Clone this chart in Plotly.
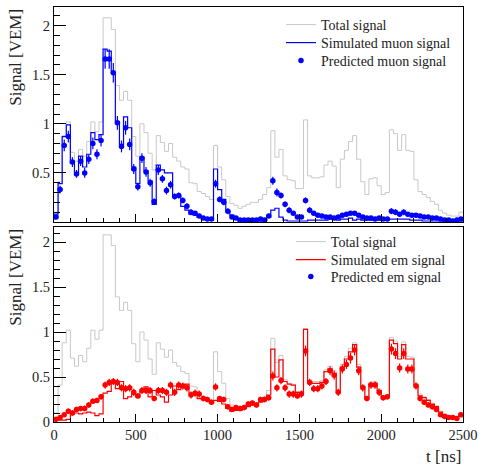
import numpy as np
import plotly.graph_objects as go

# ---------------- data (25 ns bins, 0 - 2500 ns) ----------------
BIN_WIDTH = 25
T_MAX = 2500

total_signal = [0.10, 0.41, 0.88, 1.02, 0.71, 0.62, 0.74, 0.67, 0.82, 1.02,
                0.92, 1.02, 2.08, 2.08, 1.96, 1.39, 1.24, 1.33, 1.24, 0.87,
                0.67, 1.00, 0.91, 0.70, 0.53, 0.88, 0.81, 0.72, 0.80, 0.66,
                0.62, 0.56, 0.54, 0.40, 0.39, 0.31, 0.29, 0.26, 0.23, 0.78,
                0.56, 0.43, 0.26, 0.19, 0.17, 0.14, 0.16, 0.18, 0.20, 0.20,
                0.23, 0.28, 0.35, 0.93, 0.66, 0.74, 0.47, 0.43, 0.42, 0.34,
                0.34, 1.04, 0.47, 0.45, 0.45, 0.46, 0.58, 0.62, 0.57, 0.35,
                0.64, 0.73, 0.82, 0.88, 0.64, 0.41, 0.28, 0.44, 0.45, 0.37,
                0.28, 0.30, 0.94, 0.90, 0.73, 0.89, 0.73, 0.72, 0.43, 0.31,
                0.28, 0.25, 0.21, 0.18, 0.12, 0.09, 0.07, 0.06, 0.06, 0.10]

muon_sim = [0.08, 0.39, 0.87, 0.99, 0.60, 0.50, 0.67, 0.56, 0.69, 0.91,
            0.84, 0.89, 1.76, 1.74, 1.52, 1.02, 0.79, 1.07, 0.96, 0.56,
            0.39, 0.66, 0.52, 0.42, 0.18, 0.58, 0.53, 0.50, 0.50, 0.26,
            0.26, 0.16, 0.12, 0.08, 0.07, 0.05, 0.03, 0.02, 0.02, 0.54,
            0.33, 0.23, 0.11, 0.07, 0.04, 0.01, 0.01, 0.01, 0.01, 0.01,
            0.01, 0.02, 0.05, 0.12, 0.14, 0.05, 0.02, 0.01, 0.01, 0.01,
            0.01, 0.01, 0.02, 0.02, 0.02, 0.02, 0.02, 0.03, 0.03, 0.02,
            0.03, 0.03, 0.04, 0.02, 0.03, 0.02, 0.02, 0.02, 0.02, 0.02,
            0.02, 0.02, 0.03, 0.03, 0.03, 0.03, 0.03, 0.02, 0.02, 0.02,
            0.01, 0.01, 0.01, 0.01, 0.01, 0.01, 0.01, 0.00, 0.00, 0.01]

muon_pred = [0.05, 0.33, 0.78, 0.87, 0.61, 0.49, 0.62, 0.50, 0.64, 0.80,
             0.69, 0.83, 1.66, 1.66, 1.52, 1.01, 0.77, 0.96, 0.79, 0.54,
             0.36, 0.65, 0.51, 0.40, 0.21, 0.53, 0.44, 0.32, 0.38, 0.26,
             0.27, 0.22, 0.16, 0.10, 0.09, 0.06, 0.04, 0.03, 0.03, 0.39,
             0.23, 0.20, 0.11, 0.05, 0.04, 0.02, 0.02, 0.02, 0.02, 0.02,
             0.03, 0.02, 0.06, 0.42, 0.30, 0.27, 0.18, 0.12, 0.09, 0.05,
             0.05, 0.22, 0.12, 0.09, 0.07, 0.06, 0.05, 0.05, 0.04, 0.05,
             0.07, 0.08, 0.09, 0.09, 0.07, 0.05, 0.04, 0.04, 0.03, 0.04,
             0.03, 0.03, 0.11, 0.10, 0.08, 0.10, 0.08, 0.07, 0.07, 0.06,
             0.05, 0.05, 0.04, 0.04, 0.03, 0.02, 0.02, 0.01, 0.02, 0.03]

muon_pred_err = [0.02, 0.04, 0.06, 0.06, 0.05, 0.04, 0.05, 0.05, 0.05, 0.06,
                 0.05, 0.06, 0.10, 0.10, 0.10, 0.07, 0.06, 0.07, 0.06, 0.05,
                 0.04, 0.05, 0.05, 0.04, 0.03, 0.05, 0.04, 0.04, 0.04, 0.03,
                 0.03, 0.03, 0.03, 0.03, 0.02, 0.02, 0.02, 0.02, 0.02, 0.04,
                 0.03, 0.03, 0.03, 0.02, 0.02, 0.02, 0.02, 0.02, 0.02, 0.02,
                 0.02, 0.02, 0.02, 0.04, 0.04, 0.03, 0.03, 0.03, 0.02, 0.02,
                 0.02, 0.03, 0.03, 0.02, 0.02, 0.02, 0.02, 0.02, 0.02, 0.02,
                 0.02, 0.02, 0.02, 0.02, 0.02, 0.02, 0.02, 0.02, 0.02, 0.02,
                 0.02, 0.02, 0.03, 0.03, 0.02, 0.03, 0.02, 0.02, 0.02, 0.02,
                 0.02, 0.02, 0.02, 0.02, 0.02, 0.02, 0.02, 0.02, 0.02, 0.02]

em_sim = [0.02, 0.02, 0.02, 0.03, 0.09, 0.10, 0.09, 0.10, 0.11, 0.10,
          0.07, 0.09, 0.32, 0.34, 0.44, 0.37, 0.45, 0.26, 0.28, 0.31,
          0.28, 0.34, 0.39, 0.28, 0.35, 0.30, 0.28, 0.22, 0.30, 0.40,
          0.36, 0.40, 0.42, 0.32, 0.32, 0.26, 0.26, 0.24, 0.21, 0.24,
          0.23, 0.20, 0.15, 0.12, 0.13, 0.13, 0.15, 0.17, 0.19, 0.19,
          0.22, 0.26, 0.30, 0.81, 0.50, 0.69, 0.45, 0.42, 0.41, 0.33,
          0.33, 1.03, 0.45, 0.43, 0.43, 0.44, 0.56, 0.59, 0.54, 0.33,
          0.61, 0.70, 0.78, 0.86, 0.61, 0.39, 0.26, 0.42, 0.43, 0.35,
          0.26, 0.28, 0.91, 0.87, 0.70, 0.86, 0.70, 0.70, 0.41, 0.29,
          0.27, 0.24, 0.20, 0.17, 0.11, 0.08, 0.06, 0.06, 0.06, 0.09]

em_pred = [0.03, 0.05, 0.08, 0.12, 0.10, 0.14, 0.15, 0.15, 0.19, 0.23,
           0.24, 0.28, 0.41, 0.44, 0.45, 0.44, 0.38, 0.37, 0.38, 0.33,
           0.29, 0.35, 0.35, 0.35, 0.26, 0.35, 0.35, 0.33, 0.41, 0.33,
           0.41, 0.40, 0.38, 0.30, 0.32, 0.31, 0.26, 0.25, 0.22, 0.39,
           0.26, 0.25, 0.17, 0.14, 0.16, 0.15, 0.16, 0.20, 0.21, 0.19,
           0.25, 0.25, 0.27, 0.51, 0.38, 0.46, 0.38, 0.31, 0.31, 0.29,
           0.31, 0.79, 0.44, 0.37, 0.37, 0.40, 0.45, 0.57, 0.52, 0.33,
           0.59, 0.64, 0.71, 0.80, 0.57, 0.38, 0.26, 0.41, 0.41, 0.33,
           0.27, 0.28, 0.81, 0.76, 0.60, 0.76, 0.59, 0.59, 0.40, 0.26,
           0.22, 0.19, 0.17, 0.14, 0.08, 0.06, 0.05, 0.05, 0.04, 0.08]

em_pred_err = [0.02, 0.02, 0.02, 0.03, 0.03, 0.03, 0.03, 0.03, 0.03, 0.03,
               0.03, 0.03, 0.04, 0.04, 0.04, 0.04, 0.04, 0.04, 0.04, 0.04,
               0.03, 0.04, 0.04, 0.04, 0.03, 0.04, 0.04, 0.04, 0.04, 0.04,
               0.04, 0.04, 0.04, 0.04, 0.04, 0.04, 0.03, 0.03, 0.03, 0.04,
               0.03, 0.03, 0.03, 0.03, 0.03, 0.03, 0.03, 0.03, 0.03, 0.03,
               0.03, 0.03, 0.03, 0.05, 0.04, 0.04, 0.04, 0.04, 0.04, 0.03,
               0.04, 0.06, 0.04, 0.04, 0.04, 0.04, 0.04, 0.05, 0.05, 0.04,
               0.05, 0.05, 0.06, 0.06, 0.05, 0.04, 0.03, 0.04, 0.04, 0.04,
               0.03, 0.03, 0.06, 0.06, 0.05, 0.06, 0.05, 0.05, 0.04, 0.03,
               0.03, 0.03, 0.03, 0.03, 0.02, 0.02, 0.02, 0.02, 0.02, 0.02]

x_tick_vals = [0, 500, 1000, 1500, 2000, 2500]
y_tick_vals = [0, 0.5, 1, 1.5, 2]
y_tick_text = ["0", "0.5", "1", "1.5", "2"]

# ---------------- helpers ----------------
edges = np.arange(0, T_MAX + BIN_WIDTH, BIN_WIDTH)
centers = edges[:-1] + BIN_WIDTH / 2


def step_y(vals):
    return list(vals) + [vals[-1]]


FONT = "Liberation Serif"
GRAY = "#c8c8c8"
BLUE = "#0000ff"
RED = "#ff0000"
TXT = "#222222"

fig = go.Figure()

# ---- top panel ----
fig.add_trace(go.Scatter(x=edges, y=step_y(total_signal), mode="lines", line_shape="hv",
                         line=dict(color=GRAY, width=1), name="Total signal",
                         xaxis="x", yaxis="y", legend="legend"))
fig.add_trace(go.Scatter(x=edges, y=step_y(muon_sim), mode="lines", line_shape="hv",
                         line=dict(color=BLUE, width=1.2), name="Simulated muon signal",
                         xaxis="x", yaxis="y", legend="legend3"))
fig.add_trace(go.Scatter(x=centers, y=muon_pred, mode="markers",
                         marker=dict(color=BLUE, size=5.5),
                         error_y=dict(type="data", array=muon_pred_err, color=BLUE,
                                      thickness=1.2, width=0),
                         name="Predicted muon signal",
                         xaxis="x", yaxis="y", legend="legend4"))

# ---- bottom panel ----
fig.add_trace(go.Scatter(x=edges, y=step_y(total_signal), mode="lines", line_shape="hv",
                         line=dict(color=GRAY, width=1), name="Total signal",
                         xaxis="x2", yaxis="y2", legend="legend2"))
fig.add_trace(go.Scatter(x=edges, y=step_y(em_sim), mode="lines", line_shape="hv",
                         line=dict(color=RED, width=1.2), name="Simulated em signal",
                         xaxis="x2", yaxis="y2", legend="legend5"))
fig.add_trace(go.Scatter(x=centers, y=em_pred, mode="markers",
                         marker=dict(color=RED, size=5.5),
                         error_y=dict(type="data", array=em_pred_err, color=RED,
                                      thickness=1.2, width=0),
                         name="Predicted em signal", showlegend=False,
                         xaxis="x2", yaxis="y2", legend="legend6"))
# legend entry as drawn in the original (blue marker)
fig.add_trace(go.Scatter(x=[None], y=[None], mode="markers",
                         marker=dict(color=BLUE, size=5.5),
                         name="Predicted em signal",
                         xaxis="x2", yaxis="y2", legend="legend6"))

axis_common = dict(showline=True, linecolor="black", linewidth=1, mirror=True,
                   ticks="inside", tickcolor="black", showgrid=False, zeroline=False,
                   tickfont=dict(family=FONT, size=14.5, color=TXT))

W, H = 478, 465
PLOT_TOP, PLOT_BOTTOM = 7, 422
PLOT_H = PLOT_BOTTOM - PLOT_TOP


def py(page_y):
    """page pixel y -> paper fraction"""
    return (PLOT_BOTTOM - page_y) / PLOT_H


def leg(x, y):
    return dict(x=x, y=y, xanchor="left", yanchor="middle",
                bgcolor="rgba(255,255,255,0)", borderwidth=0, tracegroupgap=0,
                font=dict(family=FONT, size=14, color=TXT), itemwidth=30)


fig.update_layout(
    width=W, height=H,
    margin=dict(l=54, r=15, t=PLOT_TOP, b=H - PLOT_BOTTOM, autoexpand=False),
    paper_bgcolor="white", plot_bgcolor="white",
    showlegend=True,
    font=dict(family=FONT),
    xaxis=dict(domain=[0, 1], anchor="y", range=[0, T_MAX], tickvals=x_tick_vals,
               showticklabels=False, ticklen=8,
               minor=dict(ticks="inside", dtick=100, ticklen=4, tickcolor="black"),
               **axis_common),
    yaxis=dict(domain=[py(222), 1], anchor="x", range=[0, 2.19], tickvals=y_tick_vals[1:],
               ticktext=y_tick_text[1:], ticklen=12,
               minor=dict(ticks="inside", dtick=0.1, ticklen=6, tickcolor="black"),
               **axis_common),
    xaxis2=dict(domain=[0, 1], anchor="y2", range=[0, T_MAX], tickvals=x_tick_vals,
                ticklen=8,
                minor=dict(ticks="inside", dtick=100, ticklen=4, tickcolor="black"),
                **axis_common),
    yaxis2=dict(domain=[0, py(227)], anchor="x2", range=[0, 2.167], tickvals=y_tick_vals,
                ticktext=y_tick_text, ticklen=12,
                minor=dict(ticks="inside", dtick=0.1, ticklen=6, tickcolor="black"),
                **axis_common),
    legend=leg(0.555, py(25)),
    legend3=leg(0.555, py(43)),
    legend4=leg(0.555, py(61)),
    legend2=leg(0.579, py(242)),
    legend5=leg(0.579, py(260)),
    legend6=leg(0.579, py(277)),
    annotations=[
        dict(text="Signal [VEM]", xref="paper", yref="paper", x=-0.095, y=1.0,
             xanchor="center", yanchor="top", textangle=-90, showarrow=False,
             font=dict(family=FONT, size=17, color=TXT)),
        dict(text="Signal [VEM]", xref="paper", yref="paper", x=-0.095, y=py(227),
             xanchor="center", yanchor="top", textangle=-90, showarrow=False,
             font=dict(family=FONT, size=17, color=TXT)),
        dict(text="t [ns]", xref="paper", yref="paper", x=1.0, y=py(445),
             xanchor="right", yanchor="top", showarrow=False,
             font=dict(family=FONT, size=17, color=TXT)),
    ],
)

# remove the page's default 8px body margin so the figure fills the window exactly
fig.write_html("out.html",
               config={"displayModeBar": False},
               post_script="document.body.style.margin='0';document.body.style.overflow='hidden';")
